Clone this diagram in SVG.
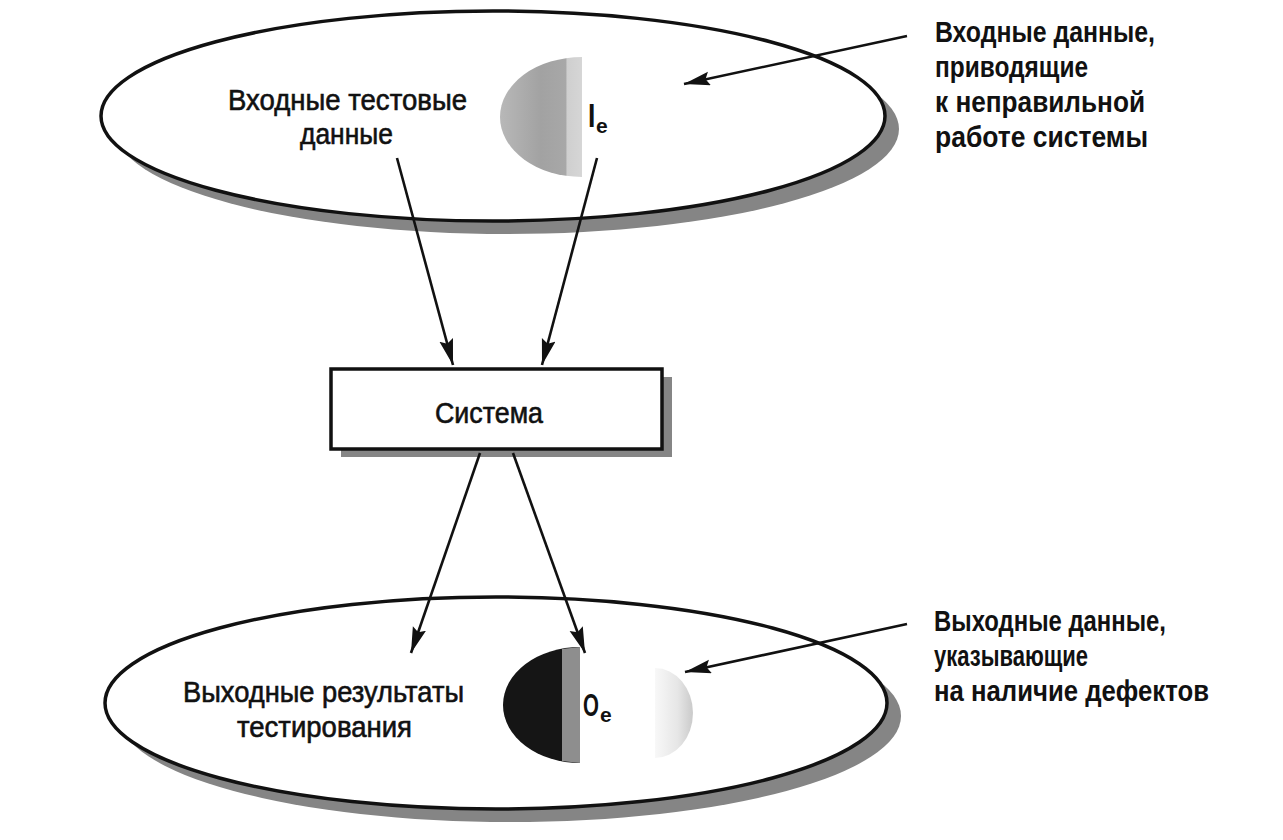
<svg xmlns="http://www.w3.org/2000/svg" width="1283" height="840" viewBox="0 0 1283 840">
<style>
.t{font-family:"Liberation Sans Narrow","Liberation Sans",Arial,sans-serif;font-size:29px;fill:#111}
.n{stroke:#111;stroke-width:0.6}
.b{font-weight:bold}
.edge{stroke:#111;stroke-width:3.5;fill:#fff}
.shadow{fill:#858585}
.conn{stroke:#111;stroke-width:2.6;fill:none;marker-end:url(#ah)}
</style>
<defs>
<marker id="ah" markerUnits="userSpaceOnUse" markerWidth="28" markerHeight="16" refX="26" refY="7" orient="auto">
<path d="M0,0 L26,7 L0,14 L4,7 z" fill="#111"/>
</marker>
<linearGradient id="faint" x1="0" y1="0" x2="1" y2="0">
<stop offset="0" stop-color="#f8f8f8"/>
<stop offset="0.6" stop-color="#e6e6e6"/>
<stop offset="1" stop-color="#cacaca"/>
</linearGradient>
<linearGradient id="topShade" x1="0" y1="0" x2="1" y2="0">
<stop offset="0" stop-color="#b8b8b8"/>
<stop offset="0.5" stop-color="#a2a2a2"/>
<stop offset="0.8" stop-color="#a8a8a8"/>
<stop offset="0.82" stop-color="#cfcfcf"/>
<stop offset="1" stop-color="#d6d6d6"/>
</linearGradient>
</defs>
<rect width="1283" height="840" fill="#fff"/>

<g id="input-domain">
<ellipse class="shadow" cx="507" cy="129" rx="392" ry="105"/>
<ellipse class="edge" cx="493" cy="116" rx="392" ry="105"/>
<path d="M582,57 A82,60 0 0 0 582,177 Z" fill="url(#topShade)"/>
<text class="t n" x="228" y="110" textLength="239" lengthAdjust="spacingAndGlyphs">Входные тестовые</text>
<text class="t n" x="300" y="144" textLength="93" lengthAdjust="spacingAndGlyphs">данные</text>
<text class="t b" transform="translate(588,127) scale(0.8,1)" style="font-size:33px">I</text>
<text class="t b" x="596" y="133" style="font-size:21px">e</text>
</g>

<g id="system">
<rect class="shadow" x="341" y="377" width="331" height="80"/>
<rect class="edge" x="331" y="369" width="331" height="80"/>
<text class="t n" x="435" y="423" textLength="108" lengthAdjust="spacingAndGlyphs">Система</text>
</g>

<g id="output-domain">
<ellipse class="shadow" cx="510" cy="716" rx="391" ry="106"/>
<ellipse class="edge" cx="496" cy="703" rx="391" ry="106"/>
<path d="M580,647 A77,58 0 0 0 580,763 Z" fill="#151515"/>
<path d="M562,649 L580,647 L580,763 L562,761 Z" fill="#8e8e8e"/>
<path d="M655,668 A38,45 0 0 1 655,758 Z" fill="url(#faint)"/>
<text class="t n" x="183" y="702" textLength="281" lengthAdjust="spacingAndGlyphs">Выходные результаты</text>
<text class="t n" x="237" y="737" textLength="175" lengthAdjust="spacingAndGlyphs">тестирования</text>
<text class="t b" transform="translate(583,716) scale(0.66,1)" style="font-size:31px">O</text>
<text class="t b" x="600" y="722" style="font-size:21px">e</text>
</g>

<g id="label-input-errors">
<text class="t b" x="935" y="42" textLength="220" lengthAdjust="spacingAndGlyphs">Входные данные,</text>
<text class="t b" x="935" y="77" textLength="153" lengthAdjust="spacingAndGlyphs">приводящие</text>
<text class="t b" x="935" y="112" textLength="210" lengthAdjust="spacingAndGlyphs">к неправильной</text>
<text class="t b" x="935" y="147" textLength="213" lengthAdjust="spacingAndGlyphs">работе системы</text>
</g>

<g id="label-output-defects">
<text class="t b" x="934" y="631" textLength="232" lengthAdjust="spacingAndGlyphs">Выходные данные,</text>
<text class="t b" x="934" y="666" textLength="154" lengthAdjust="spacingAndGlyphs">указывающие</text>
<text class="t b" x="934" y="701" textLength="275" lengthAdjust="spacingAndGlyphs">на наличие дефектов</text>
</g>

<g id="connectors">
<line class="conn" x1="397" y1="158" x2="453" y2="365"/>
<line class="conn" x1="597" y1="158" x2="542" y2="365"/>
<line class="conn" x1="480" y1="453" x2="411" y2="653"/>
<line class="conn" x1="513" y1="453" x2="585" y2="653"/>
<line class="conn" x1="907" y1="36" x2="684" y2="84"/>
<line class="conn" x1="907" y1="624" x2="685" y2="672"/>
</g>
</svg>
